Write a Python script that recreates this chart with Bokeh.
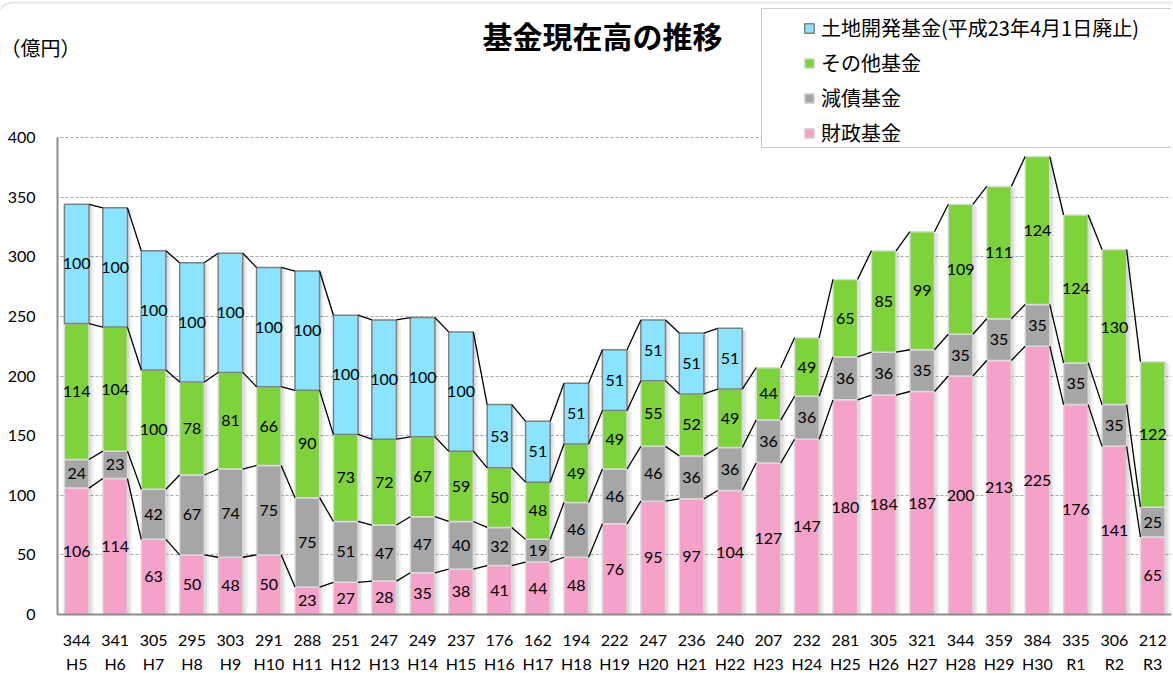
from bokeh.plotting import figure
from bokeh.models import Range1d, FixedTicker, Label, Legend, LegendItem, BoxAnnotation
from bokeh.embed import file_html
from bokeh.resources import INLINE
from bokeh.core.properties import value

# ---- data ----
years = ["H5", "H6", "H7", "H8", "H9", "H10", "H11", "H12", "H13", "H14", "H15",
         "H16", "H17", "H18", "H19", "H20", "H21", "H22", "H23", "H24", "H25",
         "H26", "H27", "H28", "H29", "H30", "R1", "R2", "R3"]
totals = [344, 341, 305, 295, 303, 291, 288, 251, 247, 249, 237, 176, 162, 194, 222,
          247, 236, 240, 207, 232, 281, 305, 321, 344, 359, 384, 335, 306, 212]
zaisei = [106, 114, 63, 50, 48, 50, 23, 27, 28, 35, 38, 41, 44, 48, 76,
          95, 97, 104, 127, 147, 180, 184, 187, 200, 213, 225, 176, 141, 65]
gensai = [24, 23, 42, 67, 74, 75, 75, 51, 47, 47, 40, 32, 19, 46, 46,
          46, 36, 36, 36, 36, 36, 36, 35, 35, 35, 35, 35, 35, 25]
sonota = [114, 104, 100, 78, 81, 66, 90, 73, 72, 67, 59, 50, 48, 49, 49,
          55, 52, 49, 44, 49, 65, 85, 99, 109, 111, 124, 124, 130, 122]
tochi = [100, 100, 100, 100, 100, 100, 100, 100, 100, 100, 100, 53, 51, 51, 51,
         51, 51, 51, 0, 0, 0, 0, 0, 0, 0, 0, 0, 0, 0]
y_ticks = [0, 50, 100, 150, 200, 250, 300, 350, 400]

series_names = ["土地開発基金(平成23年4月1日廃止)", "その他基金", "減債基金", "財政基金"]
c_blue, c_green, c_gray, c_pink = "#8AE4FF", "#7ED23B", "#A6A6A6", "#F6A1C9"

n = len(years)
xs = list(range(n))
bw = 0.64
NUM_FONT = "Lato"
JP_FONT = "Noto Sans CJK JP"

# cumulative levels
l1 = list(zaisei)
l2 = [a + b for a, b in zip(l1, gensai)]
l3 = [a + b for a, b in zip(l2, sonota)]
l4 = [a + b for a, b in zip(l3, tochi)]

W, H = 1173, 673
ZERO_PX = 614               # px from top of the value 0
Y_PX_PER_UNIT = 477 / 400   # 400 units span 477 px
X_PX_PER_CAT = 38.43
AXIS_PX = 57                # px of the value axis
x_start = -0.5 - AXIS_PX / X_PX_PER_CAT
x_end = -0.5 + (W - 2 - AXIS_PX) / X_PX_PER_CAT
y_top = ZERO_PX / Y_PX_PER_UNIT
y_bottom = -(H - ZERO_PX) / Y_PX_PER_UNIT

p = figure(width=W, height=H, output_backend="svg", toolbar_location=None,
           x_range=Range1d(x_start, x_end), y_range=Range1d(y_bottom, y_top),
           min_border_left=0, min_border_right=2, min_border_top=0,
           min_border_bottom=0)
p.outline_line_color = None
p.background_fill_color = "white"
p.border_fill_color = "white"

# chart-area border (rounded, mostly outside the visible area)
p.add_layout(BoxAnnotation(left=x_start - 3 / X_PX_PER_CAT, right=x_end + 1,
                           top=(ZERO_PX - 2) / Y_PX_PER_UNIT, bottom=y_bottom - 10,
                           fill_alpha=0, line_color="#A6A6A6", line_width=2,
                           border_radius=16, level="underlay"))

# grid
p.xgrid.visible = False
p.ygrid.ticker = FixedTicker(ticks=y_ticks)
p.ygrid.grid_line_color = "#A6A6A6"
p.ygrid.grid_line_dash = "3 2"
p.ygrid.grid_line_width = 1

# mask the grid left of the value axis
p.quad(left=x_start - 0.1, right=-0.5, bottom=-1, top=y_ticks[-1] + 1,
       fill_color="white", line_color=None)

# shadows
p.vbar(x=[x + 0.355 for x in xs], width=0.07, bottom=0, top=[t - 1 for t in l4],
       fill_color="#000000", fill_alpha=0.13, line_color=None)
p.vbar(x=[x + 0.42 for x in xs], width=0.06, bottom=0, top=[t - 2 for t in l4],
       fill_color="#000000", fill_alpha=0.05, line_color=None)

# bars
r_pink = p.vbar(x=xs, width=bw, bottom=0, top=l1, fill_color=c_pink,
                line_color="#DADADA", line_width=1.5)
r_gray = p.vbar(x=xs, width=bw, bottom=l1, top=l2, fill_color=c_gray,
                line_color="#DADADA", line_width=1.5)
r_green = p.vbar(x=xs, width=bw, bottom=l2, top=l3, fill_color=c_green,
                 line_color="#DADADA", line_width=1.5)
bi = [i for i in xs if tochi[i] > 0]
r_blue = p.vbar(x=bi, width=bw, bottom=[l3[i] for i in bi], top=[l4[i] for i in bi],
                fill_color=c_blue, line_color="#808080", line_width=1.5)

# series lines
x0s, y0s, x1s, y1s = [], [], [], []
for lev, cond in ((l1, None), (l2, None), (l3, None), (l4, tochi)):
    for i in range(n - 1):
        if cond is not None and (cond[i] == 0 or cond[i + 1] == 0):
            continue
        x0s.append(i + bw / 2); y0s.append(lev[i])
        x1s.append(i + 1 - bw / 2); y1s.append(lev[i + 1])
p.segment(x0=x0s, y0=y0s, x1=x1s, y1=y1s, line_color="black", line_width=1.3)

# data labels
lx, ly, lt = [], [], []
for i in xs:
    for base, v in ((0, zaisei[i]), (l1[i], gensai[i]), (l2[i], sonota[i]), (l3[i], tochi[i])):
        if v > 0:
            lx.append(i); ly.append(base + v / 2); lt.append(str(v))
p.text(x=lx, y=ly, text=lt, text_align="center", text_baseline="middle",
       text_font=value(NUM_FONT), text_font_size="16px", text_color="black")

# axes
for ax in (p.xaxis[0], p.yaxis[0]):
    ax.axis_line_color = "#8C8C8C"
    ax.axis_line_width = 2
    ax.major_tick_line_color = None
    ax.minor_tick_line_color = None
    ax.major_tick_out = 0
    ax.major_tick_in = 0
    ax.major_label_text_font = NUM_FONT
    ax.major_label_text_font_size = "16px"
    ax.major_label_text_color = "black"
p.yaxis.fixed_location = -0.5
p.yaxis.bounds = (y_ticks[0], y_ticks[-1])
p.yaxis.ticker = FixedTicker(ticks=y_ticks)
p.yaxis.major_label_standoff = 22
p.xaxis.fixed_location = 0
p.xaxis.bounds = (-0.5, n - 0.5)
p.xaxis.ticker = FixedTicker(ticks=xs)
p.xaxis.major_label_overrides = {i: f"{totals[i]}\n{years[i]}" for i in xs}
p.xaxis.major_label_text_line_height = 1.3
p.xaxis.major_label_standoff = 15

# titles
p.add_layout(Label(x=602, y=H - 34, x_units="screen", y_units="screen",
                   text="基金現在高の推移", text_align="center", text_baseline="middle",
                   text_font=JP_FONT, text_font_style="bold", text_font_size="30px",
                   text_color="black"))
p.add_layout(Label(x=0, y=H - 47, x_units="screen", y_units="screen",
                   text="（億円）", text_align="left", text_baseline="middle",
                   text_font=JP_FONT, text_font_size="20px", text_color="black"))

# legend box
dummy = p.vbar(x=[], top=[], width=0.5, fill_alpha=0, line_alpha=0)
box = Legend(items=[LegendItem(label=" ", renderers=[dummy])],
             location=(761, H - 148),
             glyph_width=1, glyph_height=1, label_standoff=0, label_width=415,
             label_height=138, padding=0, spacing=0, margin=0,
             border_line_color="#999999", border_line_width=1.5,
             background_fill_color="white", background_fill_alpha=1.0,
             label_text_font_size="4px")
p.add_layout(box, "center")

leg = Legend(items=[LegendItem(label=series_names[0], renderers=[r_blue]),
                    LegendItem(label=series_names[1], renderers=[r_green]),
                    LegendItem(label=series_names[2], renderers=[r_gray]),
                    LegendItem(label=series_names[3], renderers=[r_pink])],
             location=(803, H - 147), padding=0, spacing=6, margin=0,
             label_height=22, glyph_width=12, glyph_height=12, label_standoff=6,
             label_text_font=JP_FONT, label_text_font_size="20px",
             label_text_color="black", border_line_color=None, background_fill_alpha=0)
p.add_layout(leg, "center")

open("out.html", "w").write(file_html(p, INLINE))
